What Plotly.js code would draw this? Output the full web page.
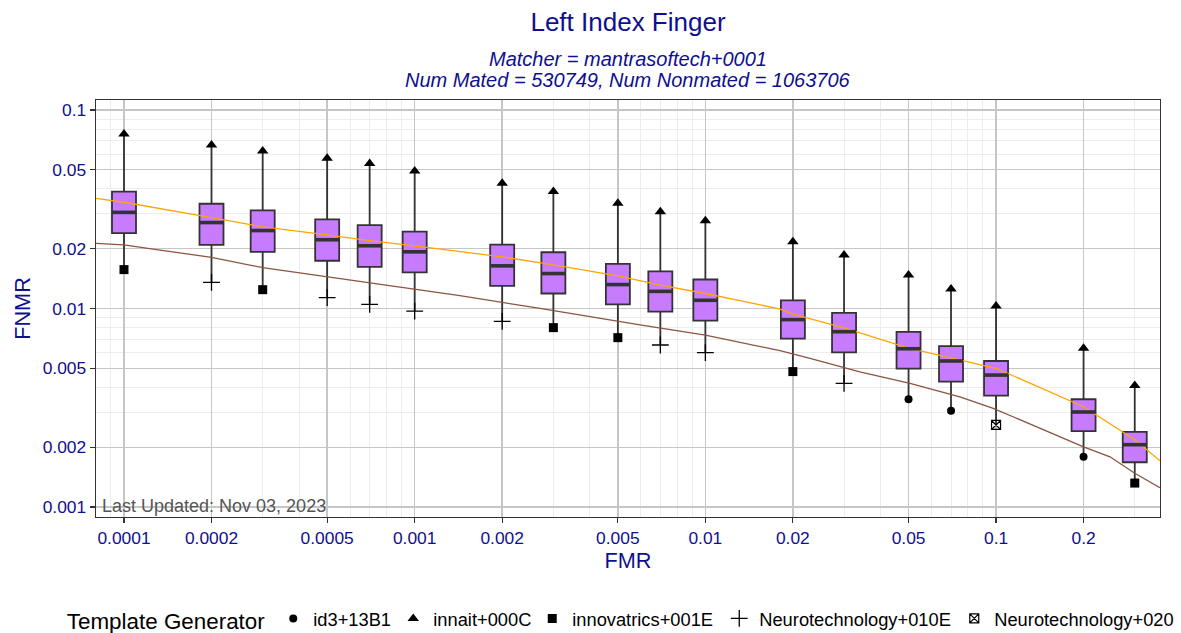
<!DOCTYPE html>
<html>
<head>
<meta charset="utf-8">
<script src="https://cdn.plot.ly/plotly-3.0.1.min.js"></script>
<style>html,body{margin:0;padding:0;background:#fff;}#chart{width:1181px;height:633px;}</style>
</head>
<body>
<div id="chart"></div>
<script>
// ---------- data ----------
var fmr = [0.0001, 0.0002, 0.0003, 0.0005, 0.0007, 0.001, 0.002, 0.003, 0.005, 0.007, 0.01, 0.02, 0.03, 0.05, 0.07, 0.1, 0.2, 0.3];
var fnmrMax = [0.0757, 0.0666, 0.0621, 0.0571, 0.0537, 0.0493, 0.0427, 0.0388, 0.0339, 0.0307, 0.0277, 0.0217, 0.0186, 0.01475, 0.01254, 0.0103, 0.0063, 0.00409];
var fnmrQ3 = [0.0388, 0.0337, 0.0312, 0.0281, 0.0263, 0.0244, 0.0210, 0.0192, 0.0168, 0.0154, 0.0140, 0.0110, 0.0095, 0.00762, 0.00647, 0.00544, 0.00349, 0.00239];
var fnmrMedian = [0.0305, 0.0271, 0.0247, 0.0222, 0.0207, 0.0193, 0.0164, 0.0150, 0.0132, 0.0122, 0.0110, 0.00879, 0.00764, 0.00627, 0.00544, 0.00462, 0.00301, 0.00206];
var fnmrQ1 = [0.0240, 0.0209, 0.0193, 0.0174, 0.0162, 0.0152, 0.0130, 0.0119, 0.0105, 0.00964, 0.00868, 0.00705, 0.00601, 0.00498, 0.00428, 0.00364, 0.00241, 0.00168];
var fnmrMin = [0.0157, 0.01355, 0.01244, 0.01134, 0.0105, 0.00971, 0.00862, 0.00801, 0.00713, 0.00655, 0.00599, 0.00481, 0.0042, 0.00349, 0.00305, 0.00259, 0.00179, 0.00132];
var maxGenerator = ['innait+000C','innait+000C','innait+000C','innait+000C','innait+000C','innait+000C','innait+000C','innait+000C','innait+000C','innait+000C','innait+000C','innait+000C','innait+000C','innait+000C','innait+000C','innait+000C','innait+000C','innait+000C'];
var minGenerator = ['innovatrics+001E','Neurotechnology+010E','innovatrics+001E','Neurotechnology+010E','Neurotechnology+010E','Neurotechnology+010E','Neurotechnology+010E','innovatrics+001E','innovatrics+001E','Neurotechnology+010E','Neurotechnology+010E','innovatrics+001E','Neurotechnology+010E','id3+13B1','id3+13B1','Neurotechnology+020','id3+13B1','innovatrics+001E'];

var generators = ['id3+13B1', 'innait+000C', 'innovatrics+001E', 'Neurotechnology+010E', 'Neurotechnology+020'];
var generatorSymbols = ['circle', 'triangle-up', 'square', 'cross-thin-open', 'square-x-open'];

// reference curves
var orangeFmr = [0.0000801, 0.0001, 0.0002, 0.0003, 0.0005, 0.0007, 0.001, 0.002, 0.003, 0.005, 0.007, 0.01, 0.01806, 0.02, 0.03, 0.05, 0.1, 0.2, 0.3, 0.3664];
var orangeFnmr = [0.0359, 0.0343, 0.0287, 0.0258, 0.0235, 0.0220, 0.0207, 0.0182, 0.0166, 0.0146, 0.0131, 0.0119, 0.00994, 0.00938, 0.00798, 0.00632, 0.0050, 0.0032, 0.00218, 0.00171];
var brownFmr = [0.0000801, 0.0001, 0.000133, 0.0002, 0.0003, 0.0005, 0.000844, 0.001431, 0.002698, 0.00596, 0.01, 0.01806, 0.02291, 0.034, 0.0506, 0.0751, 0.0978, 0.1659, 0.2, 0.2465, 0.3, 0.3663];
var brownFnmr = [0.0213, 0.0209, 0.0197, 0.0181, 0.01605, 0.01446, 0.01288, 0.0116, 0.01002, 0.00826, 0.00735, 0.00613, 0.00561, 0.0048, 0.0042, 0.00359, 0.00314, 0.00226, 0.00201, 0.00179, 0.00148, 0.00125];

var xTickVals = [0.0001, 0.0002, 0.0005, 0.001, 0.002, 0.005, 0.01, 0.02, 0.05, 0.1, 0.2];
var xTickText = ['0.0001', '0.0002', '0.0005', '0.001', '0.002', '0.005', '0.01', '0.02', '0.05', '0.1', '0.2'];
var yTickVals = [0.001, 0.002, 0.005, 0.01, 0.02, 0.05, 0.1];
var yTickText = ['0.001', '0.002', '0.005', '0.01', '0.02', '0.05', '0.1'];
var xMinorVals = [0.00009, 0.0003, 0.0004, 0.0006, 0.0007, 0.0008, 0.0009, 0.003, 0.004, 0.006, 0.007, 0.008, 0.009, 0.03, 0.04, 0.06, 0.07, 0.08, 0.09, 0.3];
var yMinorVals = [0.0009, 0.003, 0.004, 0.006, 0.007, 0.008, 0.009, 0.03, 0.04, 0.06, 0.07, 0.08, 0.09];

// ---------- style ----------
var FONT = 'Liberation Sans, Arial, Helvetica, sans-serif';
var BLUE = '#0f0f8f';
var BOX_LOG_WIDTH = 0.0826;   // box width in decades
var legendWidths = [75, 94, 142, 190, 230];

var traces = [];

traces.push({
  type: 'scatter', mode: 'lines', x: brownFmr, y: brownFnmr,
  line: {color: '#8c5442', width: 1.3}, showlegend: false, hoverinfo: 'skip'
});
traces.push({
  type: 'scatter', mode: 'lines', x: orangeFmr, y: orangeFnmr,
  line: {color: '#ffa500', width: 1.3}, showlegend: false, hoverinfo: 'skip'
});

traces.push({
  type: 'box', x: fmr, q1: fnmrQ1, median: fnmrMedian, q3: fnmrQ3,
  lowerfence: fnmrMin, upperfence: fnmrMax,
  boxpoints: false, width: BOX_LOG_WIDTH, whiskerwidth: 0,
  fillcolor: '#c77cff', line: {color: '#333333', width: 1.8},
  showlegend: false, hoverinfo: 'skip'
});

// thicker median bars
var medX = [], medY = [];
for (var i = 0; i < fmr.length; i++) {
  medX.push(fmr[i] * Math.pow(10, -BOX_LOG_WIDTH / 2), fmr[i] * Math.pow(10, BOX_LOG_WIDTH / 2), null);
  medY.push(fnmrMedian[i], fnmrMedian[i], null);
}
traces.push({
  type: 'scatter', mode: 'lines', x: medX, y: medY,
  line: {color: '#333333', width: 3.6}, showlegend: false, hoverinfo: 'skip', connectgaps: false
});

// generator markers at whisker ends
generators.forEach(function (g, k) {
  var xs = [], ys = [];
  for (var i = 0; i < fmr.length; i++) {
    if (maxGenerator[i] === g) { xs.push(fmr[i]); ys.push(fnmrMax[i]); }
    if (minGenerator[i] === g) { xs.push(fmr[i]); ys.push(fnmrMin[i]); }
  }
  var sym = generatorSymbols[k];
  var size = sym === 'triangle-up' ? 10 : (sym === 'cross-thin-open' ? 12 : (sym === 'circle' ? 8 : 9));
  traces.push({
    type: 'scatter', mode: 'markers', name: g, x: xs, y: ys,
    marker: {symbol: sym, color: '#000000', size: size, line: {color: '#000000', width: sym === 'cross-thin-open' ? 1.3 : (sym === 'square-x-open' ? 1.2 : 0)}},
    legendwidth: legendWidths[k], hoverinfo: 'skip'
  });
});

var layout = {
  width: 1181, height: 633,
  margin: {l: 96, r: 21, t: 100, b: 116, autoexpand: false},
  paper_bgcolor: '#ffffff', plot_bgcolor: '#ffffff',
  font: {family: FONT, color: BLUE},
  title: {
    text: 'Left Index Finger', font: {family: FONT, size: 26, color: BLUE},
    x: 0.5, xref: 'paper', xanchor: 'center', y: 1 - 22 / 633, yref: 'container', yanchor: 'middle'
  },
  xaxis: {
    type: 'log', range: [-4.0963, -0.436], automargin: false,
    tickmode: 'array', tickvals: xTickVals, ticktext: xTickText,
    tickfont: {family: FONT, size: 17.4, color: BLUE},
    ticks: 'outside', ticklen: 5, tickwidth: 1.2, tickcolor: '#333333',
    showgrid: true, gridcolor: '#c6c6c6', gridwidth: 1.4,
    minor: {tickmode: 'array', tickvals: xMinorVals, showgrid: true, gridcolor: '#ebebeb', gridwidth: 0.9, ticks: ''},
    showline: true, mirror: true, linecolor: '#333333', linewidth: 1.3,
    zeroline: false,
    title: {text: 'FMR', font: {family: FONT, size: 21.7, color: BLUE}, standoff: 3}
  },
  yaxis: {
    type: 'log', range: [-3.0504, -0.9496], automargin: false,
    tickmode: 'array', tickvals: yTickVals, ticktext: yTickText,
    tickfont: {family: FONT, size: 17.4, color: BLUE},
    ticks: 'outside', ticklen: 5, tickwidth: 1.2, tickcolor: '#333333',
    showgrid: true, gridcolor: '#c6c6c6', gridwidth: 1.4,
    minor: {tickmode: 'array', tickvals: yMinorVals, showgrid: true, gridcolor: '#ebebeb', gridwidth: 0.9, ticks: ''},
    showline: true, mirror: true, linecolor: '#333333', linewidth: 1.3,
    zeroline: false,
    title: {text: 'FNMR', font: {family: FONT, size: 21.7, color: BLUE}, standoff: 6}
  },
  showlegend: true,
  legend: {
    orientation: 'h', x: -0.0293, xanchor: 'left', y: -0.247, yanchor: 'middle',
    font: {family: FONT, size: 18.3, color: '#000000'},
    title: {text: 'Template Generator', side: 'left', font: {family: FONT, size: 22.4, color: '#000000'}},
    bgcolor: 'rgba(0,0,0,0)', borderwidth: 0
  },
  annotations: [
    {text: '<i>Matcher = mantrasoftech+0001</i>', xref: 'paper', yref: 'paper', x: 0.5, y: (517 - 59.5) / 417,
     xanchor: 'center', yanchor: 'middle', showarrow: false, font: {family: FONT, size: 20, color: BLUE}},
    {text: '<i>Num Mated = 530749, Num Nonmated = 1063706</i>', xref: 'paper', yref: 'paper', x: 0.5, y: (517 - 79.5) / 417,
     xanchor: 'center', yanchor: 'middle', showarrow: false, font: {family: FONT, size: 20, color: BLUE}},
    {text: 'Last Updated: Nov 03, 2023', xref: 'paper', yref: 'paper', x: 0.004, y: (517 - 506) / 417,
     xanchor: 'left', yanchor: 'middle', showarrow: false, font: {family: FONT, size: 18, color: '#555555'}}
  ]
};

Plotly.newPlot('chart', traces, layout, {displayModeBar: false, staticPlot: true});
</script>
</body>
</html>
